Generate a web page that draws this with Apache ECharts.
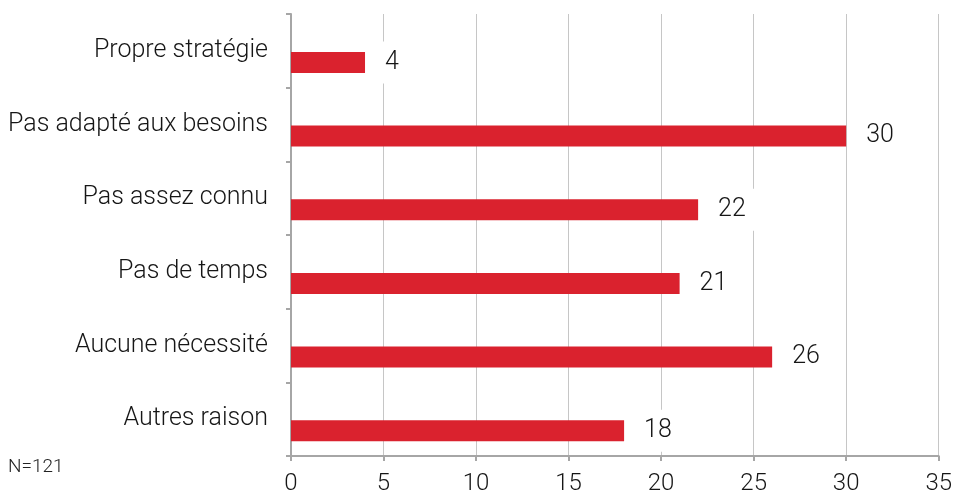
<!DOCTYPE html>
<html>
<head>
<meta charset="utf-8">
<script src="https://cdn.jsdelivr.net/npm/echarts@6/dist/echarts.min.js"></script>
<style>
  html, body { margin: 0; padding: 0; background: #fff; }
  #chart { width: 955px; height: 496px; }
</style>
</head>
<body>
<div id="chart"></div>
<script>
// Reasons, listed top to bottom
const categories = [
  'Propre stratégie',
  'Pas adapté aux besoins',
  'Pas assez connu',
  'Pas de temps',
  'Aucune nécessité',
  'Autres raison'
];
const counts = [4, 30, 22, 21, 26, 18];
const xTicks = { min: 0, max: 35, interval: 5 };
const note = 'N=121';

const FONT = 'Roboto, "Liberation Sans", Arial, sans-serif';
const INK = '#161616';
const chart = echarts.init(document.getElementById('chart'));

chart.setOption({
  animation: false,
  backgroundColor: '#fff',
  textStyle: { fontFamily: FONT },
  grid: { left: 291, right: 13, top: 14, bottom: 37, containLabel: false },
  graphic: [{
    type: 'text', left: 8, top: 458,
    style: { text: note, font: '300 19px ' + FONT, fill: '#222' }
  }],
  xAxis: {
    type: 'value',
    min: xTicks.min, max: xTicks.max, interval: xTicks.interval,
    axisLine: { show: true, lineStyle: { color: '#a6a6a6', width: 2 } },
    axisTick: { show: true, length: 5, lineStyle: { color: '#a6a6a6', width: 2 } },
    axisLabel: { color: INK, fontSize: 24, fontWeight: 300, margin: 16, fontFamily: FONT },
    splitLine: { show: true, lineStyle: { color: '#c6c6c6', width: 1 } }
  },
  yAxis: {
    type: 'category',
    data: categories,
    inverse: true,
    axisLine: { show: true, lineStyle: { color: '#a6a6a6', width: 2 } },
    axisTick: { show: true, length: 5, lineStyle: { color: '#a6a6a6', width: 2 } },
    axisLabel: { color: INK, fontSize: 25, fontWeight: 300, margin: 23, fontFamily: FONT, padding: [10, 0, 0, 0] },
    splitLine: { show: false }
  },
  series: [
    {
      // empty slot that pushes the visible bars down inside each band
      type: 'bar',
      data: categories.map(() => '-'),
      barWidth: 21,
      barGap: '10%',
      silent: true,
      itemStyle: { color: 'transparent' }
    },
    {
      type: 'bar',
      data: counts,
      barWidth: 21,
      barGap: '10%',
      itemStyle: { color: '#da222e' },
      label: {
        show: true,
        position: 'right',
        distance: 10,
        color: INK,
        fontSize: 25,
        fontWeight: 300,
        fontFamily: FONT,
        backgroundColor: '#fff',
        padding: [10, 10, 7, 10]
      }
    }
  ]
});
</script>
</body>
</html>
